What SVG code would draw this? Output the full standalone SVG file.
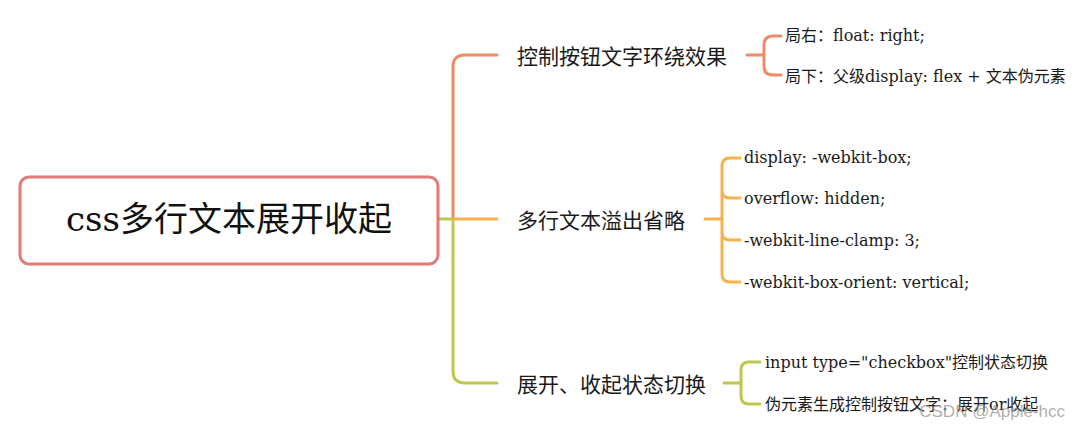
<svg xmlns="http://www.w3.org/2000/svg" width="1080" height="431" viewBox="0 0 1080 431">
<style>
.ln{fill:none;stroke-width:3;stroke-linecap:round;stroke-linejoin:round}
.c1{stroke:#ef8a63}
.c2{stroke:#f6b24e}
.c3{stroke:#bec84c}
.br{font-family:"Noto Sans CJK SC","Noto Sans",sans-serif;font-size:21px;fill:#1a1a1a;dominant-baseline:central}
.lf{font-family:"DejaVu Serif","Noto Sans CJK SC",serif;font-size:16px;fill:#1a1a1a;dominant-baseline:central}
</style>
<rect width="1080" height="431" fill="#ffffff"/>
<g id="connectors">
<path class="ln c3" d="M438,219 H453"/>
<path class="ln c1" d="M453,219 V67 Q453,55 465,55 H497"/>
<path class="ln c3" d="M453,219 V371 Q453,383 465,383 H497"/>
<path class="ln c2" d="M453,219 H497"/>
<path class="ln c1" d="M747,55 H764 M781,36 H773 Q764,36 764,45 V66 Q764,75 773,75 H781"/>
<path class="ln c2" d="M705,219 H722 M740,158 H730 Q722,158 722,166 V274 Q722,282 730,282 H740 M722,190 Q722,198 730,198 H740 M722,232 Q722,240 730,240 H740"/>
<path class="ln c3" d="M724,383 H741 M760,362 H749 Q741,362 741,370 V396 Q741,404 749,404 H760"/>
</g>
<g id="root">
<rect x="20" y="177" width="418" height="87" rx="9" fill="#ffffff" stroke="#e07b78" stroke-width="3"/>
<text x="229" y="219" text-anchor="middle" dominant-baseline="central" font-family="DejaVu Serif, Noto Sans CJK SC, serif" font-size="34" fill="#111">css多行文本展开收起</text>
</g>
<g id="branch1"><text class="br" x="517" y="55">控制按钮文字环绕效果</text></g>
<g id="branch2"><text class="br" x="517" y="219">多行文本溢出省略</text></g>
<g id="branch3"><text class="br" x="517" y="383">展开、收起状态切换</text></g>
<g id="leaf1a"><text class="lf" x="785" y="35">局右：float: right;</text></g>
<g id="leaf1b"><text class="lf" x="785" y="76">局下：父级display: flex + 文本伪元素</text></g>
<g id="leaf2a"><text class="lf" x="744" y="157">display: -webkit-box;</text></g>
<g id="leaf2b"><text class="lf" x="744" y="198">overflow: hidden;</text></g>
<g id="leaf2c"><text class="lf" x="744" y="240">-webkit-line-clamp: 3;</text></g>
<g id="leaf2d"><text class="lf" x="744" y="282">-webkit-box-orient: vertical;</text></g>
<g id="leaf3a"><text class="lf" x="765" y="362">input type="checkbox"控制状态切换</text></g>
<g id="leaf3b"><text class="lf" x="765" y="404">伪元素生成控制按钮文字：展开or收起</text></g>
<text x="1065" y="411" text-anchor="end" dominant-baseline="central" font-family="Liberation Sans, sans-serif" font-size="17" fill="#999999" fill-opacity="0.8">CSDN @Apple-hcc</text>
</svg>
